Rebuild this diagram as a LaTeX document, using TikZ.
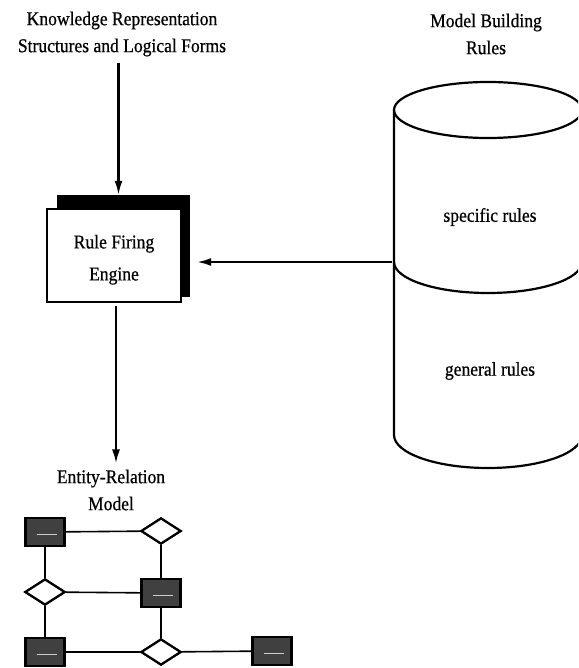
\documentclass[tikz,border=0pt]{standalone}
\usepackage{fontspec}
\setmainfont{Liberation Serif}[FakeStretch=0.9, FakeBold=0.6]
\usetikzlibrary{arrows.meta,calc,shapes.geometric}

\begin{document}
\begin{tikzpicture}[x=1pt, y=-1pt,
		label/.style={align=center, inner sep=0pt, font=\fontsize{19.5}{27}\selectfont},
		flow/.style={line width=2.1pt, -{Latex[length=14pt,width=8pt]}},
		entity/.style={draw, line width=2.2pt, fill=black!75, minimum width=39pt, minimum height=28pt, inner sep=0pt},
		relation/.style={draw, diamond, line width=2.2pt, fill=white, minimum width=40pt, minimum height=26pt, inner sep=0pt},
		link/.style={line width=1.6pt}]
		%%%%% START %%%%%
		
		\useasboundingbox (0, 0) rectangle (578, 668);
		\clip (0, 0) rectangle (578, 668);
		
		% titles
		\node[label] (kr) at (122, 34) {Knowledge Representation\\Structures and Logical Forms};
		\node[label] (mbr) at (486, 34) {Model Building\\Rules};
		
		% rule firing engine with its shadow
		\node[fill=black, minimum width=133pt, minimum height=102pt, inner sep=0pt] (engshadow) at (123.5, 246) {};
		\node[label, draw, line width=1.8pt, fill=white, minimum width=134pt, minimum height=93pt] (engine) at (114, 255.5) {\rule{0pt}{22pt}Rule Firing\\[5pt]Engine};
		
		% rule base cylinder
		\draw[line width=2.2pt] (394, 110) -- (394, 435) arc (180:0:94 and 33) -- (582, 110);
		\draw[line width=2.2pt] (488, 110) ellipse (94 and 28);
		\draw[line width=2.2pt] (394, 262) arc (180:0:94 and 31);
		\node[label] (specific) at (490, 217) {specific rules};
		\node[label] (general) at (490, 371) {general rules};
		\coordinate (split) at (392, 262);
		
		% flow arrows
		\coordinate (krfoot) at ($(kr.south -| engshadow.north) + (-5, 6)$);
		\draw[flow] (krfoot) -- (krfoot |- engshadow.north);
		\draw[flow, shorten >=7pt] (split) -- (split -| engshadow.east);
		
		\node[label] (erm) at (111, 490) {Entity-Relation\\Model};
		\coordinate (engfoot) at ($(engine.south) + (2, 3)$);
		\draw[flow, shorten >=6pt] (engfoot) -- (engfoot |- erm.north);
		
		% entity-relation graph
		\node[relation] (d1) at (161, 531) {};
		\node[relation] (d2) at (45, 592) {};
		\node[relation] (d3) at (161, 652) {};
		\draw[link] (45, 532) coordinate (c1) -- (d1);
		\draw[link] (c1) -- (d2);
		\draw[link] (d1) -- (161, 593) coordinate (c2);
		\draw[link] (d2) -- (c2);
		\draw[link] (d2) -- (45, 652) coordinate (c3);
		\draw[link] (c2) -- (d3);
		\draw[link] (c3) -- (d3);
		\draw[link] (d3) -- (272, 651) coordinate (c4);
		\foreach \e in {1,...,4} {
			\node[entity] (r\e) at (c\e) {};
			\draw[black!20, line width=1pt] ($(r\e.west)!0.3!(r\e.east) + (0, 2)$) -- ($(r\e.west)!0.8!(r\e.east) + (0, 2)$);
		}
		\node[relation] at (d1) {};
		\node[relation] at (d2) {};
		\node[relation] at (d3) {};
		
		%%%%% END %%%%%
	\end{tikzpicture}
\end{document}
